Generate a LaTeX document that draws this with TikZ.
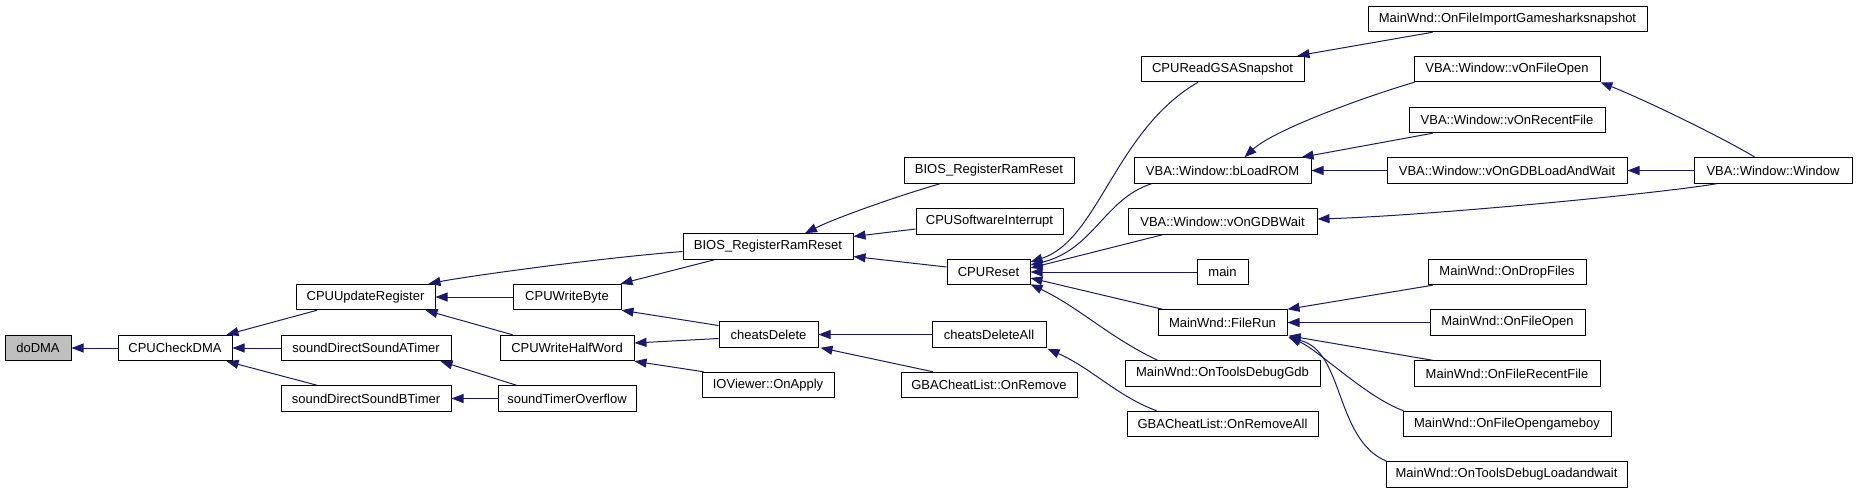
\documentclass[tikz,border=0pt]{standalone}
\usepackage{fontspec}
\setmainfont{Liberation Sans}
\usetikzlibrary{arrows.meta}
\definecolor{edgeblue}{HTML}{191970}
\definecolor{hlgray}{HTML}{BFBFBF}
\begin{document}
\begin{tikzpicture}[x=1pt,y=-1pt,
  nbox/.style={draw=black, line width=1pt, fill=white, minimum height=25.5pt, inner sep=0pt, font=\fontsize{13}{15}\selectfont},
  callarr/.style={draw=edgeblue, line width=1pt, -{Triangle[length=12pt,width=9pt]}}]
\useasboundingbox (0,0) rectangle (1857,493);
% column 0-3
\node[nbox, fill=hlgray, minimum width=66pt] (dodma) at (38,348) {doDMA};
\node[nbox, minimum width=114pt] (checkdma) at (175,348) {CPUCheckDMA};
\node[nbox, minimum width=139pt] (updreg) at (365.5,297) {CPUUpdateRegister};
\node[nbox, minimum width=170pt] (snda) at (366,348) {soundDirectSoundATimer};
\node[nbox, minimum width=170pt] (sndb) at (366,398.5) {soundDirectSoundBTimer};
\node[nbox, minimum width=108pt] (wbyte) at (567,297) {CPUWriteByte};
\node[nbox, minimum width=134pt] (whalf) at (567,348) {CPUWriteHalfWord};
\node[nbox, minimum width=138pt] (stovf) at (567,398.5) {soundTimerOverflow};
% column 4-5
\node[nbox, minimum width=170pt] (biosa) at (768,246.5) {BIOS\_RegisterRamReset};
\node[nbox, minimum width=99pt] (chdel) at (768.5,334.5) {cheatsDelete};
\node[nbox, minimum width=132pt] (ioapply) at (768,385) {IOViewer::OnApply};
\node[nbox, minimum width=170pt] (biosb) at (989,170.5) {BIOS\_RegisterRamReset};
\node[nbox, minimum width=147pt] (swi) at (989.5,221.5) {CPUSoftwareInterrupt};
\node[nbox, minimum width=83pt] (cpureset) at (988.5,272) {CPUReset};
\node[nbox, minimum width=114pt] (chdelall) at (989,334.5) {cheatsDeleteAll};
\node[nbox, minimum width=176pt] (onremove) at (989,385) {GBACheatList::OnRemove};
% column 6
\node[nbox, minimum width=163pt] (readgsa) at (1222.5,69) {CPUReadGSASnapshot};
\node[nbox, minimum width=177pt] (bload) at (1222.5,170.5) {VBA::Window::bLoadROM};
\node[nbox, minimum width=189pt] (gdbwait) at (1222.5,221.5) {VBA::Window::vOnGDBWait};
\node[nbox, minimum width=51pt] (main) at (1222.5,272) {main};
\node[nbox, minimum width=129pt] (filerun) at (1222.5,322.5) {MainWnd::FileRun};
\node[nbox, minimum width=195pt] (dbggdb) at (1222.5,373.5) {MainWnd::OnToolsDebugGdb};
\node[nbox, minimum width=191pt] (removeall) at (1222.5,424) {GBACheatList::OnRemoveAll};
% column 7
\node[nbox, minimum width=279pt] (importgs) at (1507.5,19) {MainWnd::OnFileImportGamesharksnapshot};
\node[nbox, minimum width=186pt] (fileopen) at (1507,69) {VBA::Window::vOnFileOpen};
\node[nbox, minimum width=196pt] (recent) at (1507,120) {VBA::Window::vOnRecentFile};
\node[nbox, minimum width=240pt] (gdbload) at (1507,170.5) {VBA::Window::vOnGDBLoadAndWait};
\node[nbox, minimum width=158pt] (dropfiles) at (1507,272) {MainWnd::OnDropFiles};
\node[nbox, minimum width=155pt] (mfopen) at (1507.5,322.5) {MainWnd::OnFileOpen};
\node[nbox, minimum width=186pt] (mrecent) at (1507,373.5) {MainWnd::OnFileRecentFile};
\node[nbox, minimum width=208pt] (mopengb) at (1507,424) {MainWnd::OnFileOpengameboy};
\node[nbox, minimum width=241pt] (dbgload) at (1506.5,474.5) {MainWnd::OnToolsDebugLoadandwait};
% column 8
\node[nbox, minimum width=158pt] (window) at (1773,170.5) {VBA::Window::Window};
% edges
\draw[callarr] (checkdma.west) -- (dodma.east);
\draw[callarr] ([shift={(-48.5,0)}]updreg.south) -- ([shift={(-6,0)}]checkdma.north east);
\draw[callarr] (snda.west) -- (checkdma.east);
\draw[callarr] ([shift={(-49,0)}]sndb.north) -- ([shift={(-6,0)}]checkdma.south east);
\draw[callarr] ([shift={(0,5)}]biosa.west) .. controls +(-83,6.5) and +(42,-8) .. ([shift={(-7,0)}]updreg.north east);
\draw[callarr] (wbyte.west) -- (updreg.east);
\draw[callarr] ([shift={(13,0)}]whalf.north west) -- ([shift={(-10,0)}]updreg.south east);
\draw[callarr] ([shift={(19,0)}]stovf.north west) -- ([shift={(-11,0)}]snda.south east);
\draw[callarr] (stovf.west) -- (sndb.east);
\draw[callarr] ([shift={(32,0)}]biosa.south west) -- ([shift={(-1,0)}]wbyte.north east);
\draw[callarr] ([shift={(0,-9)}]chdel.west) -- (wbyte.south east);
\draw[callarr] ([shift={(0,4)}]chdel.west) -- ([shift={(0,-5)}]whalf.east);
\draw[callarr] ([shift={(2,0)}]ioapply.north west) -- (whalf.south east);
\draw[callarr] ([shift={(-49,0)}]biosb.south) .. controls +(-45,13) and +(30,-15) .. ([shift={(37,0)}]biosa.north);
\draw[callarr] ([shift={(0,7.5)}]swi.west) -- ([shift={(0,-10)}]biosa.east);
\draw[callarr] ([shift={(0,-5)}]cpureset.west) -- ([shift={(0,10)}]biosa.east);
\draw[callarr] (chdelall.west) -- (chdel.east);
\draw[callarr] ([shift={(-56,0)}]onremove.north) -- ([shift={(2,0)}]chdel.south east);
\draw[callarr] ([shift={(-24.5,0)}]readgsa.south) .. controls +(-83,48) and +(68,-22) .. ([shift={(0,-10)}]cpureset.east);
\draw[callarr] ([shift={(18,0)}]bload.south west) .. controls +(-47,15) and +(63,-15) .. ([shift={(0,-7)}]cpureset.east);
\draw[callarr] ([shift={(35,0)}]gdbwait.south west) -- ([shift={(0,-4)}]cpureset.east);
\draw[callarr] (main.west) -- (cpureset.east);
\draw[callarr] ([shift={(5,0)}]filerun.north west) -- ([shift={(0,6)}]cpureset.east);
\draw[callarr] ([shift={(33,0)}]dbggdb.north west) .. controls +(-50,-24) and +(50,24) .. ([shift={(0,-1)}]cpureset.south east);
\draw[callarr] ([shift={(30,0)}]removeall.north west) .. controls +(-40,-15) and +(45,20) .. ([shift={(1,1)}]chdelall.south east);
\draw[callarr] ([shift={(65,0)}]importgs.south west) -- ([shift={(-7,0)}]readgsa.north east);
\draw[callarr] ([shift={(1,0)}]fileopen.south west) .. controls +(-45,13) and +(30,-28) .. ([shift={(22,0)}]bload.north);
\draw[callarr] ([shift={(24,0)}]recent.south west) -- ([shift={(-10,0)}]bload.north east);
\draw[callarr] (gdbload.west) -- (bload.east);
\draw[callarr] ([shift={(-18,0)}]window.north) .. controls +(-35,-21) and +(45,18) .. (fileopen.south east);
\draw[callarr] (window.west) -- (gdbload.east);
\draw[callarr] ([shift={(23,0)}]window.south west) .. controls +(-67,11) and +(103,-3) .. ([shift={(0,-2.5)}]gdbwait.east);
\draw[callarr] ([shift={(5,0)}]dropfiles.south west) -- (filerun.north east);
\draw[callarr] (mfopen.west) -- (filerun.east);
\draw[callarr] ([shift={(19,0)}]mrecent.north west) -- ([shift={(1,0)}]filerun.south east);
\draw[callarr] ([shift={(1,0)}]mopengb.north west) .. controls +(-38,-14) and +(31,14) .. ([shift={(1,1)}]filerun.south east);
\draw[callarr] ([shift={(1,0)}]dbgload.north west) .. controls +(-52,-22) and +(56,13) .. ([shift={(1,2)}]filerun.south east);
\end{tikzpicture}
\end{document}
